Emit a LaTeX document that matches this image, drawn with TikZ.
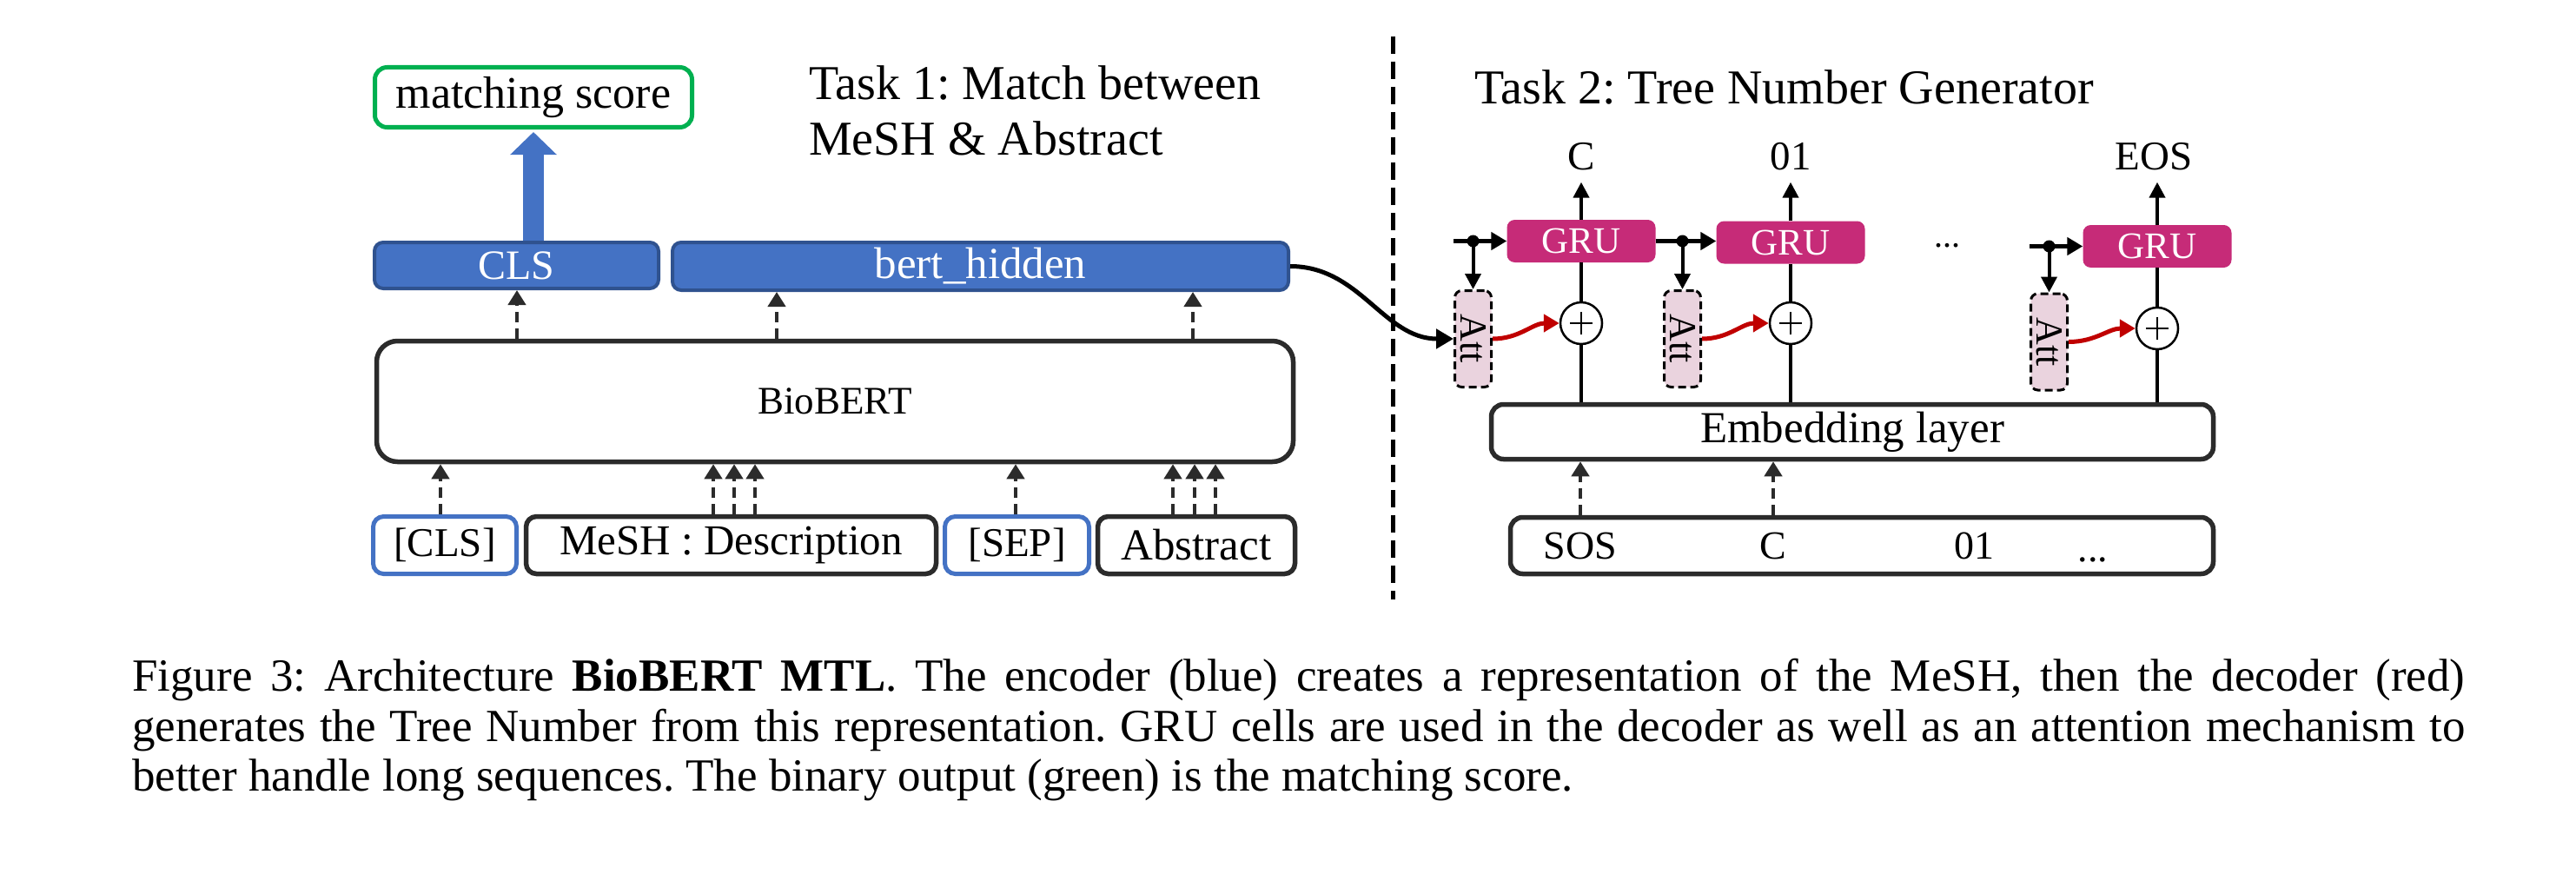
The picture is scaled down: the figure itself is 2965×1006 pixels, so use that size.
\documentclass[tikz,border=0pt]{standalone}
\usepackage{fontspec}
\setmainfont{Liberation Serif}
\usetikzlibrary{arrows.meta,calc}
\definecolor{blueF}{HTML}{4472C4}
\definecolor{blueB}{HTML}{2F528F}
\definecolor{greenB}{HTML}{00B050}
\definecolor{magF}{HTML}{C62B78}
\definecolor{pinkF}{HTML}{EAD3DE}
\definecolor{redA}{HTML}{C00000}
\definecolor{dgray}{HTML}{2B2B2B}
\newcommand\myfs[1]{\fontsize{#1}{#1}\selectfont}
\tikzset{
  darkbox/.style={draw=dgray, line width=5.5pt, rounded corners=16pt, fill=white, inner sep=0pt},
  inbluebox/.style={draw=blueF, line width=5pt, rounded corners=12pt, fill=white, inner sep=0pt},
  bluebox/.style={draw=blueB, line width=4pt, rounded corners=10pt, fill=blueF, text=white, inner sep=0pt},
  greenbox/.style={draw=greenB, line width=5pt, rounded corners=14pt, fill=white, inner sep=0pt},
  grubox/.style={fill=magF, rounded corners=9pt, text=white, inner sep=0pt, minimum width=171pt, minimum height=49pt, font=\myfs{43}},
  attbox/.style={draw=black, line width=3pt, dash pattern=on 9pt off 5pt, rounded corners=8pt, fill=pinkF, inner sep=0pt, minimum width=42pt, minimum height=111pt},
  sumcirc/.style={circle, draw=black, line width=2.5pt, fill=white, minimum size=48pt, inner sep=0pt},
  darr/.style={draw=dgray, line width=4.5pt, dash pattern=on 12pt off 7pt, -{Triangle[width=20pt,length=17pt]}},
  barr/.style={draw=black, line width=4pt, -{Triangle[width=18pt,length=18pt]}},
  hid/.style={draw=black, line width=5.5pt, -{Triangle[width=20pt,length=18pt]}},
  vline/.style={draw=black, line width=4pt},
  rarr/.style={draw=redA, line width=5pt, -{Triangle[width=20pt,length=18pt]}},
  plain/.style={inner sep=0pt},
}
\begin{document}
\frenchspacing
\begin{tikzpicture}[x=1pt,y=-1pt,execute at begin node=\frenchspacing]
\useasboundingbox (0,0) rectangle (2965,1006);

% ---------------- Task 1 ----------------
\node[greenbox, minimum width=365pt, minimum height=69pt, font=\myfs{52}] (ms) at (614,112) {matching score};
\node[bluebox, minimum width=327pt, minimum height=53pt, font=\myfs{48}] (clsh) at (594.5,305.5) {CLS};
\node[bluebox, minimum width=709pt, minimum height=55pt, font=\myfs{51}] (bh) at (1128.5,306.5) {bert\_hidden};
\node[darkbox, minimum width=1055pt, minimum height=139pt, rounded corners=24pt, font=\myfs{45}] (bio) at (961,462) {BioBERT};

\node[inbluebox, minimum width=165pt, minimum height=66pt, font=\myfs{47}] (icls) at (512,627.5) {[CLS]};
\node[darkbox, minimum width=472pt, minimum height=66pt, rounded corners=12pt, font=\myfs{49}] (imesh) at (841.5,627.5) {MeSH : Description};
\node[inbluebox, minimum width=166pt, minimum height=66pt, font=\myfs{47}] (isep) at (1170.5,627.5) {[SEP]};
\node[darkbox, minimum width=227pt, minimum height=66pt, rounded corners=12pt, font=\myfs{51}] (iabs) at (1377,627.5) {Abstract};

\node[plain, anchor=base west, font=\myfs{56}] (t1a) at (931,115) {Task 1: Match between};
\node[plain, anchor=base west, font=\myfs{56}] (t1b) at (931,178) {MeSH \& Abstract};

% big blue arrow
\draw[blueF, line width=24pt, -{Triangle[width=52pt,length=26pt]}] (clsh.north -| ms.south) -- ([yshift=-3pt]ms.south);

% dashed arrows BioBERT -> outputs
\draw[darr] (595,0 |- bio.north) -- (595,0 |- clsh.south);
\draw[darr] (894,0 |- bio.north) -- (894,0 |- bh.south);
\draw[darr] (1373,0 |- bio.north) -- (1373,0 |- bh.south);

% dashed arrows inputs -> BioBERT
\draw[darr] (507,0 |- icls.north) -- (507,0 |- bio.south);
\draw[darr] (821,0 |- imesh.north) -- (821,0 |- bio.south);
\draw[darr] (845,0 |- imesh.north) -- (845,0 |- bio.south);
\draw[darr] (869,0 |- imesh.north) -- (869,0 |- bio.south);
\draw[darr] (1169,0 |- isep.north) -- (1169,0 |- bio.south);
\draw[darr] (1350,0 |- iabs.north) -- (1350,0 |- bio.south);
\draw[darr] (1375,0 |- iabs.north) -- (1375,0 |- bio.south);
\draw[darr] (1399,0 |- iabs.north) -- (1399,0 |- bio.south);

% divider
\coordinate (dvt) at (1603,42);
\coordinate (dvb) at (1603,690);
\draw[black, line width=5pt, dash pattern=on 20pt off 9pt] (dvt) -- (dvb);

% ---------------- Task 2 ----------------
\node[plain, anchor=base west, font=\myfs{56}] (t2) at (1697,120) {Task 2: Tree Number Generator};

\node[grubox] (g1) at (1820,277.5) {GRU};
\node[grubox] (g2) at (2061,279) {GRU};
\node[grubox] (g3) at (2483,283.5) {GRU};

\node[plain, anchor=base, font=\myfs{47}] (o1) at (1820,195) {C};
\node[plain, anchor=base, font=\myfs{47}] (o2) at (2061,195) {01};
\node[plain, anchor=base, font=\myfs{47}] (o3) at (2479,195) {EOS};
\node[plain, anchor=base, font=\myfs{40}] (dots) at (2241,284) {...};

\node[sumcirc] (c1) at (1820,372) {};
\node[sumcirc] (c2) at (2061,372) {};
\node[sumcirc] (c3) at (2483,378) {};
\foreach \c in {c1,c2,c3}{
  \draw[line width=2.5pt] ([xshift=-13pt]\c.center) -- ([xshift=13pt]\c.center);
  \draw[line width=2.5pt] ([yshift=-13pt]\c.center) -- ([yshift=13pt]\c.center);
}

\node[attbox] (a1) at (1695.5,390) {};
\node[attbox] (a2) at (1936.5,390) {};
\node[attbox] (a3) at (2358.5,393.5) {};
\node[plain, rotate=-90, font=\myfs{44}] (a1t) at (a1.center) {Att};
\node[plain, rotate=-90, font=\myfs{44}] (a2t) at (a2.center) {Att};
\node[plain, rotate=-90, font=\myfs{44}] (a3t) at (a3.center) {Att};

\node[darkbox, minimum width=831pt, minimum height=63pt, rounded corners=14pt, font=\myfs{51}] (emb) at (2132,497) {Embedding layer};
\node[darkbox, minimum width=809pt, minimum height=65pt, rounded corners=14pt] (seq) at (2143,628) {};
\node[plain, font=\myfs{46}] (s1) at (1819,628) {SOS};
\node[plain, font=\myfs{46}] (s2) at (2041,628) {C};
\node[plain, font=\myfs{46}] (s3) at (2272,628) {01};
\node[plain, anchor=base, font=\myfs{46}] (s4) at (2409,646) {...};

% embedding inputs
\draw[darr] (s1 |- seq.north) -- (s1 |- emb.south);
\draw[darr] (s2 |- seq.north) -- (s2 |- emb.south);

% vertical lines
\foreach \c/\g in {c1/g1,c2/g2,c3/g3}{
  \draw[vline] (emb.north -| \c) -- (\c.south);
  \draw[vline] (\c.north) -- (\g.south);
}
\draw[barr, shorten >=14pt] (g1.north -| o1) -- (o1.south);
\draw[barr, shorten >=14pt] (g2.north -| o2) -- (o2.south);
\draw[barr, shorten >=14pt] (g3.north -| c3) -- (c3 |- o3.south);

% hidden state lines
\coordinate (h1s) at (1673,0 |- g1.west);
\coordinate (d1) at (a1.north |- g1.west);
\draw[hid] (h1s) -- (g1.west);
\fill (d1) circle (7pt);
\draw[barr] (d1) -- (a1.north);

\coordinate (d2) at (a2.north |- g1.east);
\draw[hid] (g1.east) -- (g1.east -| g2.west);
\fill (d2) circle (7pt);
\draw[barr] (d2) -- (a2.north);

\coordinate (h3s) at (2336,0 |- g3.west);
\coordinate (d3) at (a3.north |- g3.west);
\draw[hid] (h3s) -- (g3.west);
\fill (d3) circle (7pt);
\draw[barr] (d3) -- (a3.north);

% red attention arrows
\draw[rarr] (a1.east) to[out=0,in=180] (c1.west);
\draw[rarr] (a2.east) to[out=0,in=180] (c2.west);
\draw[rarr] (a3.east) to[out=0,in=180] (c3.west);

% encoder -> attention
\draw[line width=5pt, -{Triangle[width=22pt,length=20pt]}] (bh.east) to[out=0,in=180] (a1.west);

% ---------------- caption ----------------
\node[plain, anchor=north west, text width=2685pt, align=justify, font={\fontsize{53}{57.5}\selectfont}] (cap) at (152,758)
{Figure 3: Architecture \textbf{BioBERT MTL}. The encoder (blue) creates a representation of the MeSH, then the decoder (red)\linebreak generates the Tree Number from this representation. GRU cells are used in the decoder as well as an attention mechanism to\linebreak better handle long sequences. The binary output (green) is the matching score.};
\end{tikzpicture}
\end{document}
